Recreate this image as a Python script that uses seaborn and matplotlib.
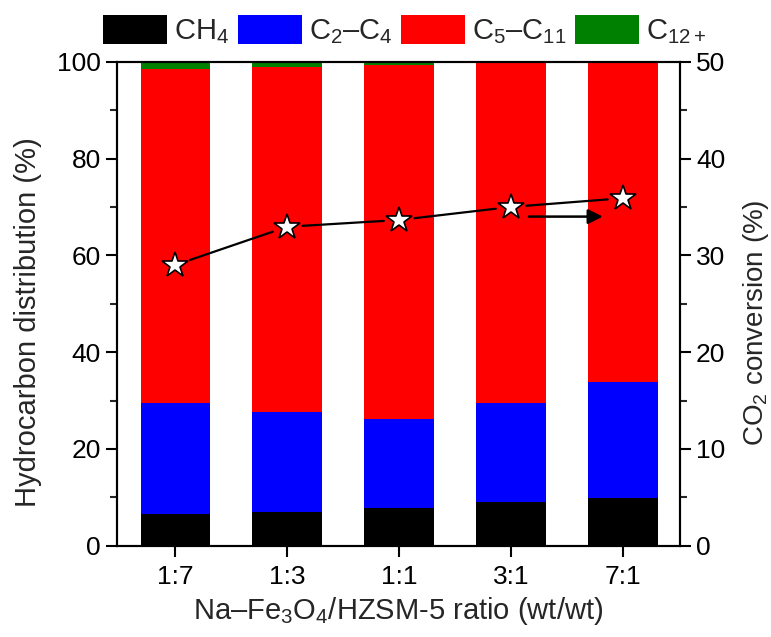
import matplotlib
matplotlib.use("Agg")
import matplotlib.pyplot as plt
import seaborn as sns
import pandas as pd
import numpy as np
from matplotlib.patches import Patch

# ---- data ----
ratios = ["1:7", "1:3", "1:1", "3:1", "7:1"]
ch4 = [6.55, 6.95, 7.8, 9.0, 9.85]
c2_c4 = [22.95, 20.65, 18.4, 20.5, 24.05]
c5_c11 = [68.9, 71.4, 73.05, 70.2, 65.8]
c12_plus = [1.6, 1.0, 0.75, 0.33, 0.3]
co2_conv = [29.0, 32.95, 33.65, 35.0, 35.9]
series_names = [r"CH$_4$", r"C$_2$–C$_4$", r"C$_5$–C$_{11}$", r"C$_{12+}$"]
series_colors = ["#000000", "#0000ff", "#ff0000", "#008000"]
left_ticks = [0, 20, 40, 60, 80, 100]
right_ticks = [0, 10, 20, 30, 40, 50]
arrow_start = (3.16, 34.0)
arrow_end = (3.82, 34.0)

sns.set_theme(style="ticks")
plt.rcParams["font.family"] = ["Liberation Sans", "DejaVu Sans"]
plt.rcParams["mathtext.fontset"] = "custom"
plt.rcParams["mathtext.rm"] = "Liberation Sans"
plt.rcParams["mathtext.it"] = "Liberation Sans"
plt.rcParams["mathtext.default"] = "regular"

df = pd.DataFrame({"ratio": ratios, "ch4": ch4, "c2c4": c2_c4,
                   "c5c11": c5_c11, "c12": c12_plus, "conv": co2_conv})
df["cum1"] = df["ch4"]
df["cum2"] = df["cum1"] + df["c2c4"]
df["cum3"] = df["cum2"] + df["c5c11"]
df["cum4"] = df["cum3"] + df["c12"]

fig = plt.figure(figsize=(7.71, 6.37), dpi=100)
ax = fig.add_axes([0.1518, 0.1433, 0.882 - 0.1518, 0.9031 - 0.1433])

for col, color in zip(["cum4", "cum3", "cum2", "cum1"], series_colors[::-1]):
    sns.barplot(data=df, x="ratio", y=col, color=color, width=0.62,
                saturation=1, ax=ax, edgecolor="none", linewidth=0)

xlim = (-0.52, 4.51)
ax.set_ylim(0, 100)
ax.set_xlim(*xlim)
ax.set_yticks(left_ticks)
ax.set_yticks(np.arange(10, 100, 20), minor=True)
ax.set_xlabel(r"Na–Fe$_3$O$_4$/HZSM-5 ratio (wt/wt)", fontsize=21)
ax.set_ylabel("Hydrocarbon distribution (%)", fontsize=21)
ax.xaxis.set_label_coords(0.5, -0.102)
ax.yaxis.set_label_coords(-0.133, 0.462)

ax2 = ax.twinx()
# connectors with small gaps around the markers
for i in range(len(ratios) - 1):
    ax2.annotate("", xy=(i + 1, co2_conv[i + 1]), xytext=(i, co2_conv[i]),
                 arrowprops=dict(arrowstyle="-", color="black", lw=1.6,
                                 shrinkA=11, shrinkB=11))
sns.lineplot(data=df, x="ratio", y="conv", ax=ax2, color="black",
             linestyle="none", marker="*", markersize=19,
             markerfacecolor="white", markeredgecolor="black",
             markeredgewidth=1.2, sort=False)
ax2.set_ylim(0, 50)
ax2.set_yticks(right_ticks)
ax2.set_yticks(np.arange(5, 50, 10), minor=True)
ax2.set_ylabel(r"CO$_2$ conversion (%)", fontsize=20)
ax2.yaxis.set_label_coords(1.108, 0.46)
ax2.set_xlim(*xlim)
ax2.annotate("", xy=arrow_end, xytext=arrow_start,
             arrowprops=dict(arrowstyle="-|>", color="black", lw=1.8,
                             mutation_scale=22, shrinkA=0, shrinkB=0))

for a in (ax, ax2):
    for s in a.spines.values():
        s.set_linewidth(1.5)
        s.set_color("black")
    a.tick_params(axis="both", which="major", direction="out", length=8,
                  width=1.5, labelsize=19, colors="black")
    a.tick_params(axis="both", which="minor", direction="out", length=5,
                  width=1.5)
ax.tick_params(axis="x", pad=6)
ax.tick_params(axis="y", which="both", right=False)
ax2.tick_params(axis="y", which="both", left=False)

handles = [Patch(facecolor=c, edgecolor="none") for c in series_colors]
fig.legend(handles, series_names, loc="center", ncol=4,
           bbox_to_anchor=(0.525, 0.952), frameon=False, fontsize=21,
           handlelength=2.2, handleheight=1.15, columnspacing=0.28,
           handletextpad=0.25, borderaxespad=0.0)

fig.savefig("out.png", dpi=100)
